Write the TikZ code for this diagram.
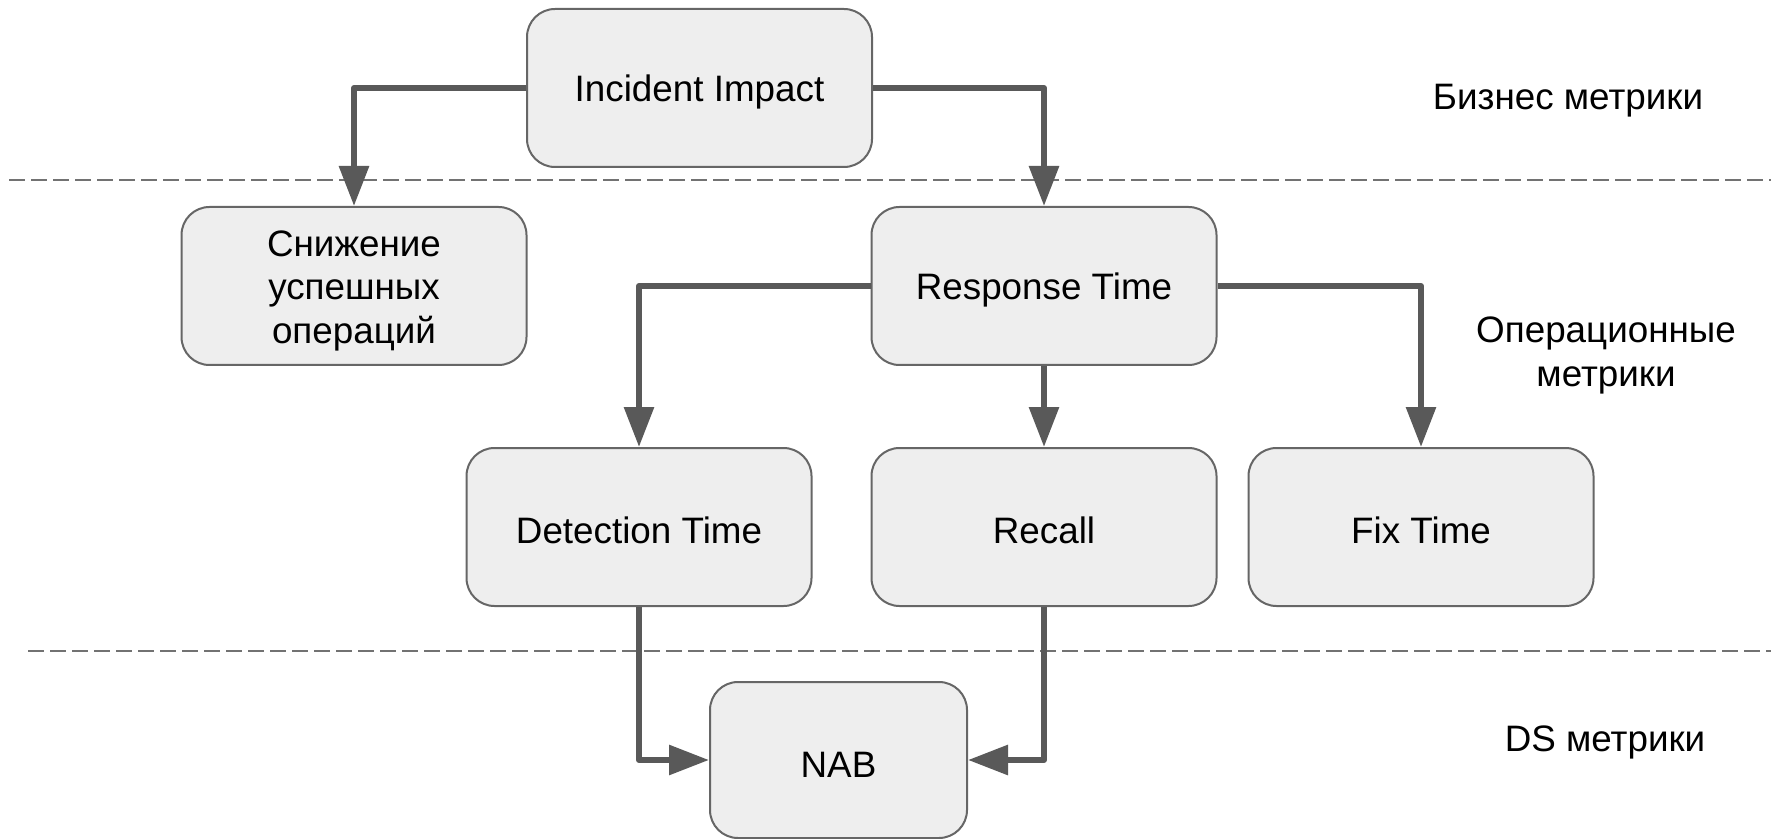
\documentclass[tikz,border=0pt]{standalone}
\usepackage{fontspec}
\setmainfont{Liberation Sans}
\usetikzlibrary{arrows.meta}
\definecolor{boxfill}{HTML}{EEEEEE}
\definecolor{boxline}{HTML}{666666}
\definecolor{arrowcol}{HTML}{595959}
\definecolor{dashcol}{HTML}{727272}
\newcommand{\lowerstrut}{\rule{0pt}{17pt}}
\newcommand{\multistrut}{\rule{0pt}{17.5pt}}
\begin{document}
\begin{tikzpicture}[x=0.5pt,y=-0.5pt,
  metric/.style={draw=boxline, line width=1pt, fill=boxfill, rounded corners=14pt,
    minimum width=172.5pt, minimum height=79pt, align=center, inner sep=0pt,
    font=\fontsize{18.4}{21.7}\selectfont, execute at begin node=\lowerstrut},
  conn/.style={draw=arrowcol, line width=3pt, line join=round,
    -{Triangle[length=20pt,width=14.5pt]}},
  sep/.style={draw=dashcol, line width=1.3pt, dash pattern=on 8pt off 3pt},
  level/.style={align=center, inner sep=0pt, font=\fontsize{18.4}{21.7}\selectfont,
    execute at begin node=\lowerstrut}]
\useasboundingbox (0,0) rectangle (1771,839);
% separators
\coordinate (s1a) at (9,180);
\coordinate (s1b) at (1771,180);
\coordinate (s2a) at (28,651);
\coordinate (s2b) at (1771,651);
\draw[sep] (s1a) -- (s1b);
\draw[sep] (s2a) -- (s2b);
% nodes
\node[metric] (ii) at (699.5,88) {Incident Impact};
\node[metric] (sn) at (354,286) {\multistrut Снижение\\успешных\\операций};
\node[metric] (rt) at (1044,286) {Response Time};
\node[metric] (dt) at (639,527) {Detection Time};
\node[metric] (rc) at (1044,527) {Recall};
\node[metric] (ft) at (1421,527) {Fix Time};
\node[metric, minimum width=128.5pt, minimum height=78pt] (nab) at (838.5,760) {NAB};
% level labels
\node[level] (l1) at (1568,96) {Бизнес метрики};
\node[level] (l2) at (1606,351) {\multistrut Операционные\\метрики};
\node[level] (l3) at (1605,738) {DS метрики};
% connectors
\draw[conn] (ii.west) -| (sn.north);
\draw[conn] (ii.east) -| (rt.north);
\draw[conn] (rt.west) -| (dt.north);
\draw[conn] (rt.south) -- (rc.north);
\draw[conn] (rt.east) -| (ft.north);
\draw[conn] (dt.south) |- (nab.west);
\draw[conn] (rc.south) |- (nab.east);
\end{tikzpicture}
\end{document}
